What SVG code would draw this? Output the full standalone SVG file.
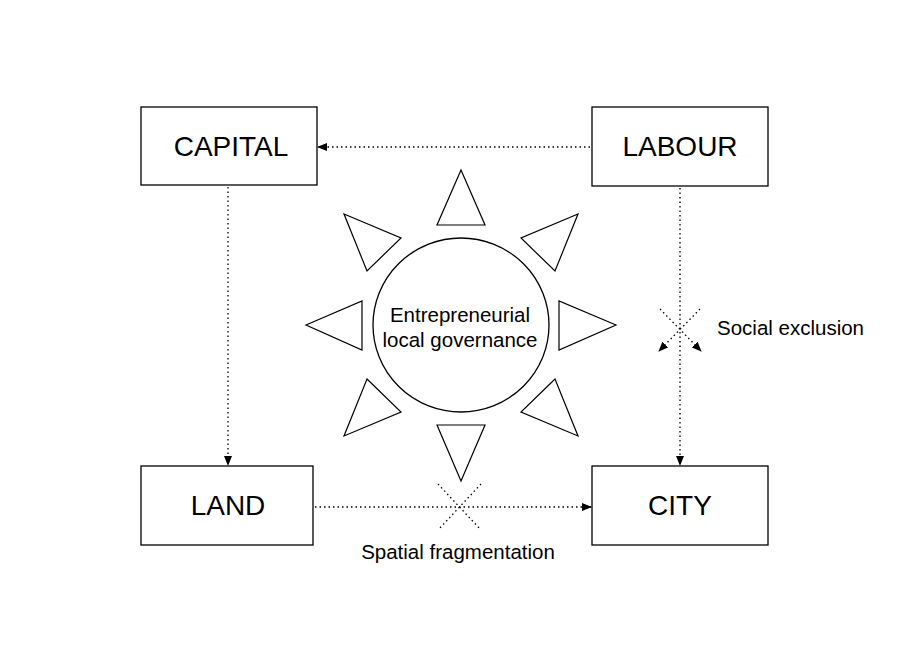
<svg xmlns="http://www.w3.org/2000/svg" width="922" height="651" viewBox="0 0 922 651">
<style>
.box{fill:#fff;stroke:#000;stroke-width:1.3}
.lbl{font-family:"Liberation Sans",Arial,sans-serif;font-size:28px;text-anchor:middle;fill:#000}
.sm{font-family:"Liberation Sans",Arial,sans-serif;font-size:20.5px;fill:#000}
.dot{stroke:#000;stroke-width:1.3;stroke-dasharray:1.5 3;fill:none}
.tri{fill:#fff;stroke:#000;stroke-width:1.2}
</style>
<defs>
<marker id="ah" markerWidth="10" markerHeight="8" refX="9" refY="4" orient="auto" markerUnits="userSpaceOnUse"><path d="M0,0 L10,4 L0,8 Z" fill="#000"/></marker>
</defs>
<rect width="922" height="651" fill="#fff"/>
<g id="connectors">
<line class="dot" x1="590" y1="147" x2="318" y2="147" marker-end="url(#ah)"/>
<line class="dot" x1="228" y1="187" x2="228" y2="465" marker-end="url(#ah)"/>
<line class="dot" x1="680" y1="188" x2="680" y2="465" marker-end="url(#ah)"/>
<line class="dot" x1="315" y1="507" x2="591" y2="507" marker-end="url(#ah)"/>
<line class="dot" x1="438" y1="484" x2="481" y2="530"/>
<line class="dot" x1="481" y1="484" x2="438" y2="530"/>
<line class="dot" x1="660" y1="309" x2="701" y2="351" marker-end="url(#ah)"/>
<line class="dot" x1="700" y1="309" x2="659" y2="351" marker-end="url(#ah)"/>
</g>
<g id="capital"><rect class="box" x="141" y="107" width="176" height="78"/><text class="lbl" x="231" y="156">CAPITAL</text></g>
<g id="labour"><rect class="box" x="592" y="107" width="176" height="79"/><text class="lbl" x="680" y="156">LABOUR</text></g>
<g id="land"><rect class="box" x="141" y="466" width="172" height="79"/><text class="lbl" x="228" y="515">LAND</text></g>
<g id="city"><rect class="box" x="592" y="466" width="176" height="79"/><text class="lbl" x="680" y="515">CITY</text></g>
<g id="governance">
<ellipse class="box" cx="461" cy="325" rx="88" ry="87"/>
<text class="sm" x="460" y="322" text-anchor="middle">Entrepreneurial</text>
<text class="sm" x="460" y="347" text-anchor="middle">local governance</text>
<polygon class="tri" points="461,170 437,225 485,225"/>
<polygon class="tri" points="344,214 401,238 367,271"/>
<polygon class="tri" points="578,214 521,238 555,271"/>
<polygon class="tri" points="306,325 362,301 362,350"/>
<polygon class="tri" points="616,325 559,301 559,350"/>
<polygon class="tri" points="367,379 401,412 344,436"/>
<polygon class="tri" points="555,379 521,412 578,436"/>
<polygon class="tri" points="437,425 485,425 461,481"/>
</g>
<text class="sm" x="717" y="335">Social exclusion</text>
<text class="sm" x="458" y="559" text-anchor="middle">Spatial fragmentation</text>
</svg>
